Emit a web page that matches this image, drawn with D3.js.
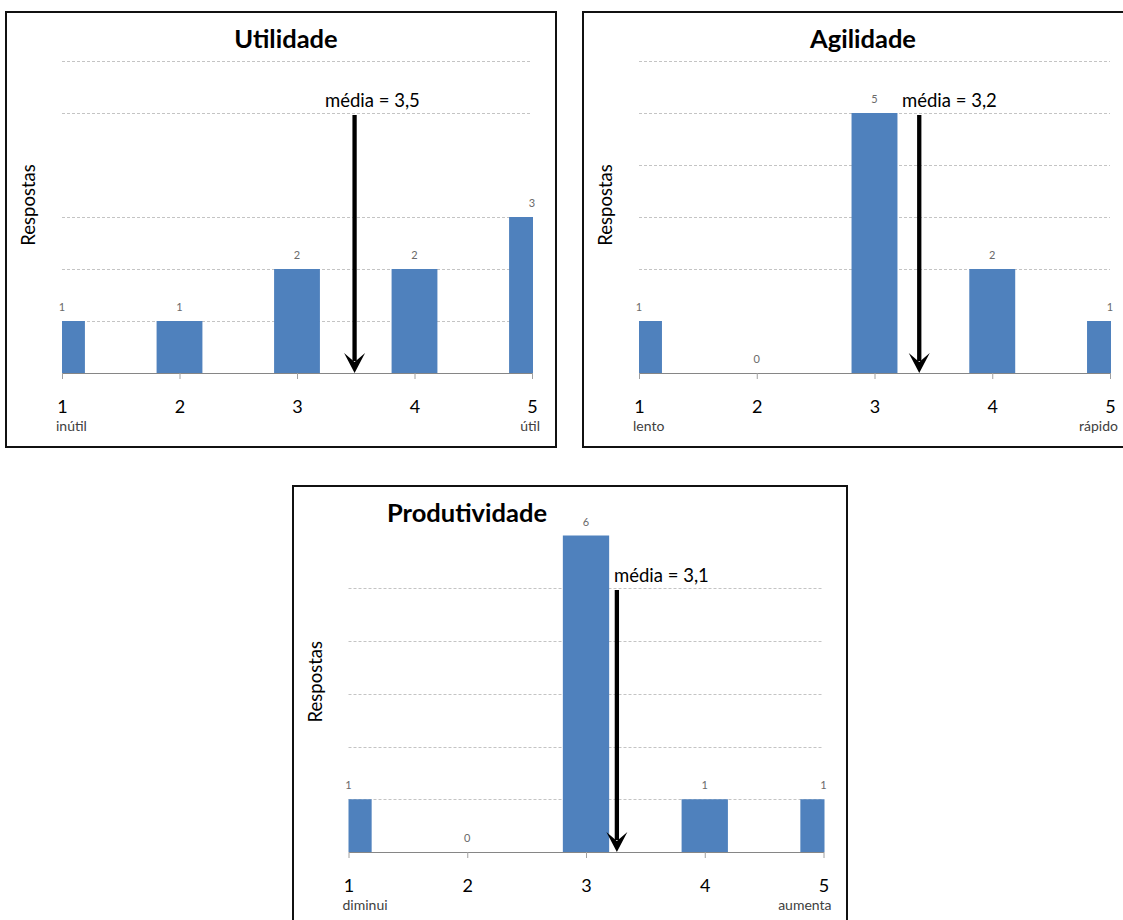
<!DOCTYPE html>
<html lang="pt">

<head>
  <meta charset="utf-8">
  <title>Utilidade, Agilidade, Produtividade</title>
  <script type="text/javascript" src="https://cdn.jsdelivr.net/npm/d3@7"></script>
  <style>
    body { margin: 0; background: #fff; }
    svg text { font-family: Lato, "Open Sans", sans-serif; }
  </style>
</head>

<body>
  <div class="chart"></div>

  <script type="text/javascript">
    var w = 1123,
      h = 920;

    // values
    var categories = [1, 2, 3, 4, 5];
    var utilidade = [1, 1, 2, 2, 3];
    var agilidade = [1, 0, 5, 2, 1];
    var produtividade = [1, 0, 6, 1, 1];
    var titles = ["Utilidade", "Agilidade", "Produtividade"];
    var lowLabels = ["inútil", "lento", "diminui"];
    var highLabels = ["útil", "rápido", "aumenta"];
    var meanLabels = ["média = 3,5", "média = 3,2", "média = 3,1"];
    var arrowAt = [3.49, 3.38, 3.26];
    var yMax = 6;
    var gridShown = [[1, 2, 3, 5, 6], [2, 3, 4, 5, 6], [1, 2, 3, 4, 5]];

    var series = [utilidade, agilidade, produtividade];

    // where each panel sits on the page
    var panels = [
      { box: [6, 12, 550, 435], x0: 62, x1: 532, base: 373, top: 61, titleX: 286, titleY: 48, meanX: 325, meanY: 107, arrowTop: 115 },
      { box: [583, 12, 600, 435], x0: 639, x1: 1110, base: 373, top: 61, titleX: 863, titleY: 48, meanX: 902, meanY: 107, arrowTop: 115 },
      { box: [293, 486, 554, 460], x0: 348.5, x1: 823.5, base: 852, top: 535.5, titleX: 467, titleY: 522, meanX: 614, meanY: 582, arrowTop: 590 }
    ];

    var svg = d3.select('.chart')
      .append('svg')
      .attr('width', w)
      .attr('height', h);

    var drawPanel = function(i) {
      var p = panels[i];
      var values = series[i];
      var g = svg.append('g');

      var x = d3.scaleLinear().domain([1, 5]).range([p.x0, p.x1]);
      var y = d3.scaleLinear().domain([0, yMax]).range([p.base, p.top]);
      var step = x(2) - x(1);
      var barW = step * 0.39;

      // frame
      g.append('rect')
        .attr('x', p.box[0])
        .attr('y', p.box[1])
        .attr('width', p.box[2])
        .attr('height', p.box[3])
        .attr('fill', 'none')
        .attr('stroke', '#111')
        .attr('stroke-width', 2);

      // gridlines
      g.selectAll('.grid')
        .data(gridShown[i])
        .enter()
        .append('line')
        .attr('x1', p.x0)
        .attr('x2', p.x1)
        .attr('y1', function(d) { return Math.round(y(d)) + 0.5; })
        .attr('y2', function(d) { return Math.round(y(d)) + 0.5; })
        .attr('stroke', '#c4c4c4')
        .attr('stroke-dasharray', '3,2');

      // bars, clipped to the plot area (the end bars are cut in half)
      var clipId = 'clip' + i;
      g.append('clipPath')
        .attr('id', clipId)
        .append('rect')
        .attr('x', p.x0)
        .attr('y', p.top - 20)
        .attr('width', p.x1 - p.x0 + 1)
        .attr('height', p.base - p.top + 20);

      g.append('g')
        .attr('clip-path', 'url(#' + clipId + ')')
        .selectAll('rect')
        .data(values)
        .enter()
        .append('rect')
        .attr('x', function(d, j) { return x(categories[j]) - barW / 2; })
        .attr('y', function(d) { return y(d); })
        .attr('width', barW)
        .attr('height', function(d) { return y(0) - y(d); })
        .attr('fill', '#4f81bd');

      // data labels
      g.selectAll('.val')
        .data(values)
        .enter()
        .append('text')
        .attr('x', function(d, j) { return x(categories[j]); })
        .attr('y', function(d) { return y(d) - 10; })
        .attr('text-anchor', 'middle')
        .style('font-size', '11px')
        .style('fill', '#6a6a6a')
        .text(function(d) { return d; });

      // x axis
      var axis = d3.axisBottom(x)
        .tickValues(categories)
        .tickSize(6)
        .tickSizeOuter(0)
        .tickFormat(d3.format('d'));

      var ax = g.append('g')
        .attr('transform', 'translate(0,' + p.base + ')')
        .call(axis);
      ax.select('.domain').attr('stroke', '#868686');
      ax.selectAll('.tick line').attr('stroke', '#a0a0a0');
      ax.selectAll('.tick text')
        .attr('y', 40)
        .attr('dy', null)
        .style('font-size', '18px')
        .style('font-family', 'Lato, sans-serif')
        .style('fill', '#000');

      // scale ends
      g.append('text')
        .attr('x', p.x0 - 6)
        .attr('y', p.base + 58)
        .style('font-size', '14px')
        .style('fill', '#404040')
        .text(lowLabels[i]);
      g.append('text')
        .attr('x', p.x1 + 8)
        .attr('y', p.base + 58)
        .attr('text-anchor', 'end')
        .style('font-size', '14px')
        .style('fill', '#404040')
        .text(highLabels[i]);

      // y label
      g.append('text')
        .attr('transform', 'translate(' + (p.x0 - 34) + ',' + ((p.base + p.top) / 2 - 12) + ') rotate(-90)')
        .attr('text-anchor', 'middle')
        .attr('dominant-baseline', 'central')
        .style('font-size', '18.5px')
        .style('fill', '#000')
        .text('Respostas');

      // title
      g.append('text')
        .attr('x', p.titleX)
        .attr('y', p.titleY)
        .attr('text-anchor', 'middle')
        .style('font-size', '25.5px')
        .style('font-weight', 'bold')
        .style('fill', '#000')
        .text(titles[i]);

      // mean arrow
      var ax0 = x(arrowAt[i]);
      g.append('line')
        .attr('x1', ax0)
        .attr('x2', ax0)
        .attr('y1', p.arrowTop)
        .attr('y2', p.base - 12)
        .attr('stroke', '#000')
        .attr('stroke-width', 4.3);
      g.append('path')
        .attr('d', 'M' + ax0 + ',' + p.base +
          'L' + (ax0 - 10.5) + ',' + (p.base - 20) +
          'L' + ax0 + ',' + (p.base - 11) +
          'L' + (ax0 + 10.5) + ',' + (p.base - 20) + 'Z')
        .attr('fill', '#000');

      g.append('text')
        .attr('x', p.meanX)
        .attr('y', p.meanY)
        .style('font-size', '18.5px')
        .style('fill', '#000')
        .text(meanLabels[i]);
    }

    for (var i = 0; i < panels.length; i++) {
      drawPanel(i);
    }
  </script>

</body>

</html>
